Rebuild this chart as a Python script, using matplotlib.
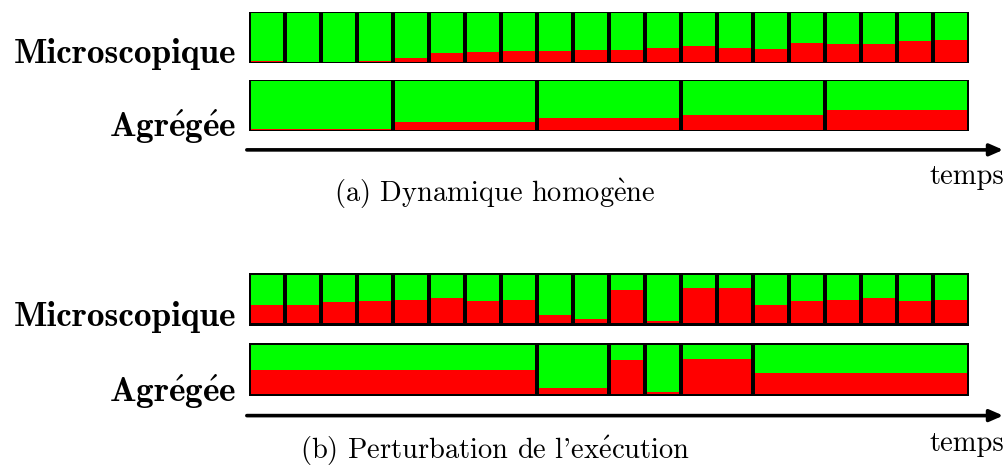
"""Microscopic vs aggregated view of a load trace, homogeneous vs perturbed."""
import matplotlib
matplotlib.use("Agg")
import matplotlib.pyplot as plt
import numpy as np

plt.rcParams["mathtext.fontset"] = "cm"

GREEN = "#00ff00"
RED = "#ff0000"

# share of red (busy) per time step, 20 microscopic steps
MICRO_A = [0.02, 0.0, 0.0, 0.02, 0.09, 0.18, 0.20, 0.22, 0.22, 0.24,
           0.24, 0.28, 0.32, 0.28, 0.26, 0.385, 0.37, 0.37, 0.43, 0.45]
AGG_A_SPANS = [4, 4, 4, 4, 4]
AGG_A = [0.02, 0.16, 0.25, 0.30, 0.41]

MICRO_B = [0.37, 0.37, 0.43, 0.455, 0.48, 0.52, 0.455, 0.48, 0.165, 0.08,
           0.68, 0.04, 0.72, 0.72, 0.37, 0.455, 0.48, 0.52, 0.455, 0.48]
AGG_B_SPANS = [8, 2, 1, 1, 2, 6]
AGG_B = [0.48, 0.125, 0.69, 0.04, 0.71, 0.42]

ROW_LABELS = ["Microscopique", "Agr$\\mathbf{\\acute{e}}$g$\\mathbf{\\acute{e}}$e"]
CAPTIONS = ["(a) Dynamique homog$\\mathrm{\\grave{e}}$ne",
            "(b) Perturbation de l'ex$\\mathrm{\\acute{e}}$cution"]
AXIS_LABEL = "temps"

W, H, DPI = 1008, 468, 100
N = len(MICRO_A)
ROW_GAP = 1.33


def draw_row(ax, spans, fracs, y0, gx, gy):
    spans = np.asarray(spans, float)
    lefts = np.concatenate([[0], np.cumsum(spans)[:-1]])
    inner = 1 - 2 * gy
    ax.bar(-gx, 1, width=spans.sum() + 2 * gx, bottom=y0, align="edge",
           color="black", linewidth=0)
    ax.bar(lefts + gx, inner, width=spans - 2 * gx, bottom=y0 + gy,
           align="edge", color=GREEN, linewidth=0)
    ax.bar(lefts + gx, inner * np.asarray(fracs), width=spans - 2 * gx,
           bottom=y0 + gy, align="edge", color=RED, linewidth=0)


def panel(fig, bottom_px, row_px, micro, agg_spans, agg, caption, cap_px,
          gx, gy):
    top_ylim = ROW_GAP + 1.02
    ax = fig.add_axes([249 / W, 1 - bottom_px / H, 720 / W,
                       top_ylim * row_px / H])
    ax.set_xlim(0, N)
    ax.set_ylim(0, top_ylim)
    ax.axis("off")

    draw_row(ax, [1] * N, micro, ROW_GAP, gx, gy)
    draw_row(ax, agg_spans, agg, 0, gx, gy)

    bold = dict(family="cmb10", fontsize=25.4, ha="right", va="baseline",
                clip_on=False)
    ax.text(-0.36, ROW_GAP, ROW_LABELS[0], **bold)
    ax.text(-0.36, -0.11, ROW_LABELS[1], **bold)

    ax.annotate("", xy=(20.95, -0.37), xytext=(-0.06, -0.37),
                arrowprops=dict(arrowstyle="-|>,head_length=0.8,head_width=0.35",
                                color="black", lw=2.6, shrinkA=0, shrinkB=0),
                annotation_clip=False)
    ax.text(20.97, -1.04, AXIS_LABEL, family="cmr10", fontsize=20.5,
            ha="right", va="baseline", clip_on=False)
    ax.text(6.83, -cap_px / row_px, caption, family="cmr10", fontsize=20.5,
            ha="center", va="baseline", clip_on=False)
    return ax


fig = plt.figure(figsize=(W / DPI, H / DPI), dpi=DPI)
panel(fig, 131, 51, MICRO_A, AGG_A_SPANS, AGG_A, CAPTIONS[0], 71, 0.045, 0.02)
panel(fig, 396, 53, MICRO_B, AGG_B_SPANS, AGG_B, CAPTIONS[1], 63, 0.06, 0.045)
fig.savefig("out.png", dpi=DPI)
